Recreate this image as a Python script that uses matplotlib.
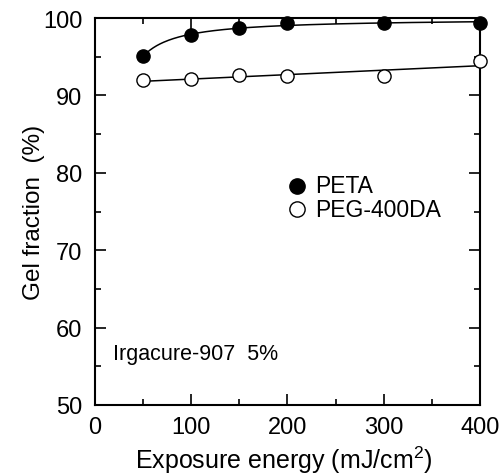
import matplotlib
matplotlib.use("Agg")
import matplotlib.pyplot as plt
import numpy as np
from matplotlib.ticker import MultipleLocator

plt.rcParams["font.family"] = ["Liberation Sans", "DejaVu Sans"]
plt.rcParams["mathtext.fontset"] = "custom"
plt.rcParams["mathtext.rm"] = "Liberation Sans"

# data
energy = [50, 100, 150, 200, 300, 400]
peta = [95.1, 97.8, 98.7, 99.3, 99.35, 99.4]
peg = [92.0, 92.1, 92.6, 92.55, 92.5, 94.4]

fig = plt.figure(figsize=(5.03, 4.77), dpi=100)
ax = fig.add_axes([0.189, 0.149, 0.765, 0.811])

# smooth guide curves fitted to the points
e = np.array(energy, float)
xs = np.linspace(50, 400, 200)
A = np.vstack([np.ones_like(e), 1 / e, 1 / e**2]).T
c = np.linalg.lstsq(A, np.array(peta), rcond=None)[0]
ax.plot(xs, c[0] + c[1] / xs + c[2] / xs**2, color="black", lw=1.1)
p = np.polyfit(e, peg, 1)
xs2 = np.linspace(45, 400, 200)
ax.plot(xs2, np.polyval(p, xs2), color="black", lw=1.1)

ax.plot(energy, peta, "o", ms=9.5, color="black", clip_on=False, zorder=3)
ax.plot(energy, peg, "o", ms=9.5, mfc="white", mec="black", mew=1.0,
        clip_on=False, zorder=3)

ax.set_xlim(0, 400)
ax.set_ylim(50, 100)
ax.xaxis.set_major_locator(MultipleLocator(100))
ax.xaxis.set_minor_locator(MultipleLocator(50))
ax.yaxis.set_major_locator(MultipleLocator(10))
ax.yaxis.set_minor_locator(MultipleLocator(5))
ax.tick_params(which="both", direction="in", top=True, right=True,
               labelsize=17, width=1.2)
ax.tick_params(which="major", length=8)
ax.tick_params(which="minor", length=4)
ax.tick_params(axis="x", which="major", pad=8)
ax.tick_params(axis="y", which="major", pad=9)
for s in ax.spines.values():
    s.set_linewidth(1.5)

ax.set_xlabel("Exposure energy (mJ/cm$^{2}$)", fontsize=18)
ax.set_ylabel("Gel fraction  (%)", fontsize=17.5)
ax.xaxis.set_label_coords(0.49, -0.1)
ax.yaxis.set_label_coords(-0.13, 0.5)

# legend drawn as markers + text
ax.plot([0.525], [0.566], "o", ms=11, color="black", transform=ax.transAxes)
ax.plot([0.525], [0.506], "o", ms=11, mfc="white", mec="black",
        transform=ax.transAxes)
ax.text(0.571, 0.566, "PETA", fontsize=16.5, va="center",
        transform=ax.transAxes)
ax.text(0.571, 0.506, "PEG-400DA", fontsize=16.5, va="center",
        transform=ax.transAxes)

ax.text(0.047, 0.132, "Irgacure-907  5%", fontsize=15.5, va="center",
        transform=ax.transAxes)

fig.savefig("out.png", dpi=100)
